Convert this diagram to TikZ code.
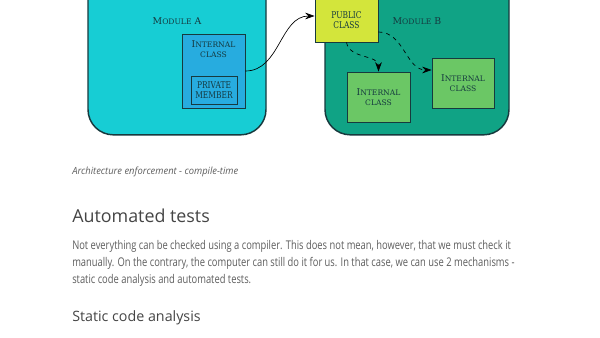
\documentclass[tikz,border=0pt]{standalone}
\usepackage{fontspec}
\newfontfamily\websans{Open Sans}
\newfontfamily\webbody[FakeStretch=0.78]{Open Sans}
\newfontfamily\webcaption[FakeStretch=0.95]{Open Sans}
\newfontfamily\slab{DejaVu Serif}
\newfontfamily\slabnarrow[FakeStretch=0.8]{DejaVu Serif}
\usetikzlibrary{arrows.meta, positioning}

\definecolor{modacyan}{HTML}{17CDD4}
\definecolor{modbteal}{HTML}{10A385}
\definecolor{intblue}{HTML}{27ACDF}
\definecolor{pubyellow}{HTML}{D3E53B}
\definecolor{intgreen}{HTML}{6BC765}
\definecolor{edgeink}{HTML}{173A3E}
\definecolor{labelink}{HTML}{15393F}
\definecolor{bodygray}{HTML}{5E5E5E}
\definecolor{headgray}{HTML}{454545}

% small caps by hand
\newcommand{\smc}[1]{{\fontsize{5.7}{7.5}\selectfont #1}}

\begin{document}
\begin{tikzpicture}[x=0.75pt,y=-0.75pt,
  module/.style={rectangle,draw=edgeink,line width=1.1pt,rounded corners=19pt},
  clsbox/.style={rectangle,draw=edgeink,line width=0.7pt,inner sep=1pt},
  lbl/.style={font=\slab\fontsize{7}{7.5}\selectfont,text=labelink,align=center},
  caps/.style={font=\slabnarrow\fontsize{7}{7.5}\selectfont,text=labelink,align=center},
  arr/.style={-{Stealth[length=7pt,width=5pt]},line width=0.5pt,black},
  para/.style={anchor=base west,font=\webbody\fontsize{9}{10}\selectfont,text=bodygray,inner sep=0pt}
]
  \useasboundingbox (0,0) rectangle (600,338);
  \clip (0,0) rectangle (600,338);
  \fill[white] (0,0) rectangle (600,338);

  % modules
  \node[module,fill=modacyan,minimum width=133.5pt,minimum height=131pt](moda) at (177,47.5) {};
  \node[module,fill=modbteal,minimum width=138pt,minimum height=131pt](modb) at (417,47.5) {};
  \node[lbl](modalbl) at (177,21) {M\smc{ODULE} A};
  \node[lbl](modblbl) at (417,21) {M\smc{ODULE} B};

  % classes
  \node[clsbox,fill=intblue,minimum width=47.25pt,minimum height=55.5pt](inta) at (213.5,71) {};
  \node[lbl,below=2pt of inta.north](intalbl) {I\smc{NTERNAL}\\\smc{CLASS}};
  \node[clsbox,fill=intblue,minimum width=34.5pt,minimum height=21pt,caps](priv) at (214,90) {PRIVATE\\MEMBER};
  \node[clsbox,fill=pubyellow,minimum width=47.25pt,minimum height=33pt,caps](pub) at (346.5,20) {PUBLIC\\CLASS};
  \node[clsbox,fill=intgreen,minimum width=47.25pt,minimum height=37.5pt,lbl](intb) at (378.5,97) {I\smc{NTERNAL}\\\smc{CLASS}};
  \node[clsbox,fill=intgreen,minimum width=46.5pt,minimum height=37.5pt,lbl](intc) at (463,83) {I\smc{NTERNAL}\\\smc{CLASS}};

  % dependencies
  \draw[arr](inta.east) to[out=0,in=180] ([yshift=3pt]pub.west);
  \draw[arr,dashed](pub.south) to[out=-80,in=90] (intb.north);
  \draw[arr,dashed]([yshift=-9pt]pub.east) to[out=0,in=180] ([yshift=9.75pt]intc.west);

  % page text
  \node[para,font=\webcaption\itshape\fontsize{7.4}{8}\selectfont](caption) at (72,174.5) {Architecture enforcement - compile-time};
  \node[para,font=\websans\fontsize{13.4}{15}\selectfont,text=headgray](head1) at (72,222.3) {Automated tests};
  \node[para](line1) at (72,249.3) {Not everything can be checked using a compiler. This does not mean, however, that we must check it};
  \node[para](line2) at (72,266.3) {manually. On the contrary, the computer can still do it for us. In that case, we can use 2 mechanisms -};
  \node[para](line3) at (72,283.3) {static code analysis and automated tests.};
  \node[para,font=\websans\fontsize{10.7}{12}\selectfont,text=headgray](head2) at (72,321.3) {Static code analysis};
\end{tikzpicture}
\end{document}
